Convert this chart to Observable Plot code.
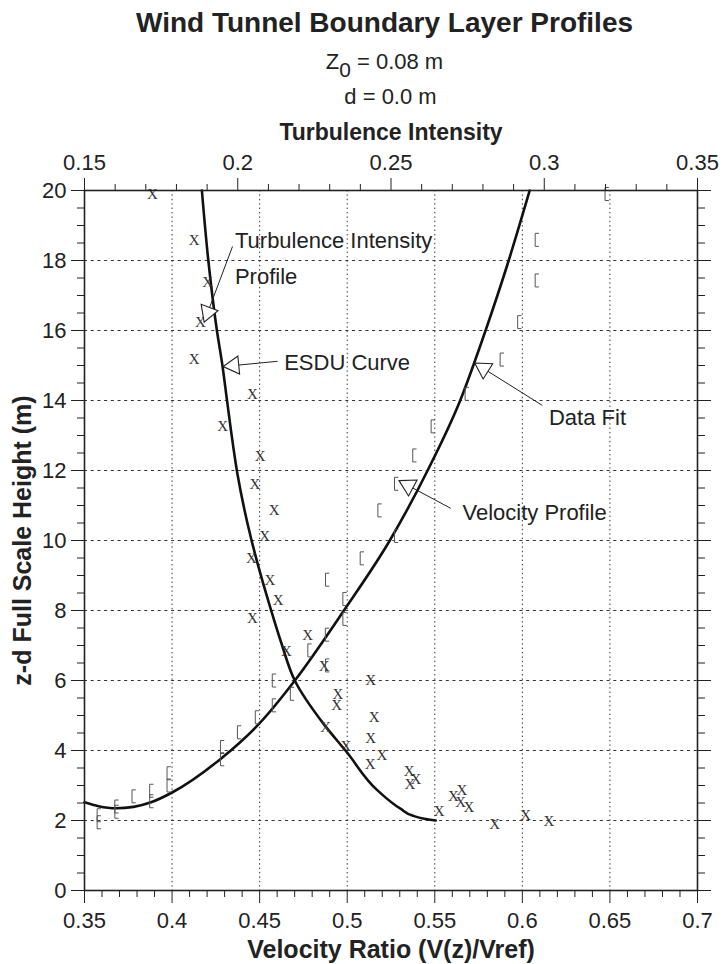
<!DOCTYPE html>
<html>
<head>
<meta charset="utf-8">
<script src="https://cdn.jsdelivr.net/npm/d3@7"></script>
<script src="https://cdn.jsdelivr.net/npm/@observablehq/plot@0.6"></script>
<style>
  body { margin: 0; background: #fff; font-family: "Liberation Sans", Arial, sans-serif; color: #222; }
  #hdr { width: 724px; height: 116px; position: relative; }
  .ln { position: absolute; left: 51px; width: 667px; text-align: center; white-space: nowrap; }
  #t1 { top: 0; height: 46px; line-height: 46px; font-weight: bold; font-size: 28px; }
  #t2 { top: 44px; height: 36px; line-height: 36px; font-size: 22px; }
  #t3 { top: 79px; height: 36px; line-height: 36px; font-size: 22px; left: 57px; }
  #t2 .sub { font-size: 0.95em; position: relative; top: 8px; }
</style>
</head>
<body>
<div id="hdr">
  <div class="ln" id="t1"></div>
  <div class="ln" id="t2"></div>
  <div class="ln" id="t3"></div>
</div>
<div id="chart"></div>
<script>
// ---------- text ----------
const titleText = "Wind Tunnel Boundary Layer Profiles";
const z0Text = ["Z", "0", " = 0.08 m"];
const dText = "d = 0.0 m";
const topAxisLabel = "Turbulence Intensity";
const xAxisLabel = "Velocity Ratio (V(z)/Vref)";
const yAxisLabel = "z-d Full Scale Height (m)";

// ---------- ticks ----------
const vTicks = [0.35, 0.4, 0.45, 0.5, 0.55, 0.6, 0.65, 0.7];
const vTickLabels = ["0.35", "0.4", "0.45", "0.5", "0.55", "0.6", "0.65", "0.7"];
const tiTicks = [0.15, 0.2, 0.25, 0.3, 0.35];
const tiTickLabels = ["0.15", "0.2", "0.25", "0.3", "0.35"];
const zTicks = [0, 2, 4, 6, 8, 10, 12, 14, 16, 18, 20];
const zTickLabels = ["0", "2", "4", "6", "8", "10", "12", "14", "16", "18", "20"];
const vGrid = [0.4, 0.45, 0.5, 0.55, 0.6, 0.65];
const zGrid = [2, 4, 6, 8, 10, 12, 14, 16, 18];

// ---------- turbulence intensity data (X markers, top axis) ----------
const tiValues = [0.1722, 0.1858, 0.1902, 0.1878, 0.1858, 0.2048, 0.1951, 0.2073, 0.2056, 0.2119,
  0.2088, 0.2045, 0.2105, 0.2132, 0.2048, 0.2228, 0.2159, 0.2282, 0.2434, 0.2327,
  0.2323, 0.2445, 0.2287, 0.2434, 0.2353, 0.2470, 0.2432, 0.2559, 0.2581, 0.2562,
  0.2657, 0.2704, 0.2731, 0.2727, 0.2754, 0.2838, 0.2939, 0.3015];
const tiHeights = [19.9, 18.59, 17.38, 16.24, 15.17, 14.19, 13.26, 12.40, 11.60, 10.86,
  10.13, 9.49, 8.88, 8.30, 7.79, 7.29, 6.84, 6.40, 6.02, 5.62,
  5.29, 4.95, 4.67, 4.36, 4.11, 3.86, 3.62, 3.42, 3.19, 3.03,
  2.26, 2.69, 2.86, 2.52, 2.38, 1.90, 2.14, 1.98];

// ---------- velocity ratio data ([ markers, bottom axis) ----------
const velValues = [0.6479, 0.6080, 0.6080, 0.5980, 0.5880, 0.5680, 0.5486, 0.5381, 0.5277, 0.5182,
  0.5277, 0.5081, 0.4883, 0.4982, 0.4982, 0.4882, 0.4782, 0.4883, 0.4579, 0.4682,
  0.4579, 0.4482, 0.4380, 0.4283, 0.4283, 0.3978, 0.3978, 0.3879, 0.3879, 0.3778,
  0.3680, 0.3680, 0.3579, 0.3579];
const velHeights = [19.9, 18.59, 17.43, 16.24, 15.17, 14.19, 13.26, 12.43, 11.62, 10.86,
  10.13, 9.49, 8.88, 8.33, 7.76, 7.31, 6.86, 6.43, 6.00, 5.62,
  5.29, 4.95, 4.52, 4.10, 3.75, 3.35, 3.00, 2.85, 2.55, 2.69,
  2.40, 2.25, 2.15, 1.95];

// ---------- velocity profile "Data Fit" curve ----------
const fitV = [0.3500, 0.3580, 0.3680, 0.3780, 0.3880, 0.4000, 0.4277, 0.4500,
  0.4701, 0.4981, 0.5243, 0.5459, 0.5645, 0.5790, 0.5922, 0.6042];
const fitZ = [2.52, 2.41, 2.35, 2.39, 2.52, 2.80, 3.76, 4.78,
  6.00, 8.00, 10.00, 12.00, 14.00, 16.00, 18.00, 20.00];

// ---------- turbulence intensity "ESDU Curve" ----------
const esduT = [0.1883, 0.1904, 0.1932, 0.1950, 0.1965, 0.1978, 0.1999, 0.2032, 0.2065, 0.2106,
  0.2143, 0.2186, 0.2280, 0.2356, 0.2456, 0.2532, 0.2570, 0.2608, 0.2646];
const esduZ = [20, 18, 16, 15, 14, 13.14, 11.9, 10.48, 9.33, 8.09,
  7.05, 6.0, 4.76, 3.95, 2.86, 2.33, 2.14, 2.05, 2.0];

// ---------- annotations ----------
const annTexts = ["Turbulence Intensity", "Profile", "ESDU Curve", "Data Fit", "Velocity Profile"];
const annV = [0.4359, 0.4359, 0.4640, 0.6152, 0.5658];
const annZ = [18.57, 17.52, 15.07, 13.49, 10.79];
const arrowStartV = [0.4345, 0.4602, 0.6114, 0.5591];
const arrowStartZ = [18.40, 15.12, 13.86, 10.92];
const arrowTipV = [0.4183, 0.4292, 0.5728, 0.5296];
const arrowTipZ = [16.24, 14.97, 15.07, 11.71];

// ---------- derived ----------
const W = 724, H = 848, mL = 84, mR = 27, mT = 74, mB = 74;
const vDomain = [0.35, 0.7], zDomain = [0, 20];
const toV = (t) => vDomain[0] + (t - tiTicks[0]) * (vDomain[1] - vDomain[0]) / (tiTicks[tiTicks.length - 1] - tiTicks[0]);
const tiTickPos = tiTicks.map(toV);
const vMinor = d3.range(35, 71).map(i => i / 100).filter(v => !vTicks.some(t => Math.abs(t - v) < 1e-9));
const tiMinor = d3.range(15, 36).map(i => toV(i / 100)).filter(v => !tiTickPos.some(t => Math.abs(t - v) < 1e-9));
const zMinor = d3.range(0, 41).map(i => i / 2).filter(z => z % 2 !== 0);

const tiData = tiValues.map((t, i) => ({v: toV(t), z: tiHeights[i]}));
const velData = velValues.map((v, i) => ({v, z: velHeights[i]}));
const fitData = fitV.map((v, i) => ({v, z: fitZ[i]}));
const esduData = esduT.map((t, i) => ({v: toV(t), z: esduZ[i]}));
const annData = annTexts.map((s, i) => ({s, v: annV[i], z: annZ[i]}));

const kx = (W - mL - mR) / (vDomain[1] - vDomain[0]);
const ky = (H - mT - mB) / (zDomain[1] - zDomain[0]);
const side = 18;
const y0 = side / (2 * Math.sqrt(3));
const triR = Math.sqrt(3 * Math.sqrt(3) * y0 * y0 / Math.PI);
const arrowData = arrowStartV.map((sv, i) => {
  const dxp = (arrowTipV[i] - sv) * kx;
  const dyp = -(arrowTipZ[i] - arrowStartZ[i]) * ky;
  const len = Math.hypot(dxp, dyp);
  const ux = dxp / len, uy = dyp / len;
  return {
    sv, sz: arrowStartZ[i],
    cv: arrowTipV[i] - ux * 2 * y0 / kx,
    cz: arrowTipZ[i] + uy * 2 * y0 / ky,
    rot: Math.atan2(uy, ux) * 180 / Math.PI + 90
  };
});

// "[" marker drawn as a crisp path symbol
const bracketSymbol = {
  draw(context) {
    context.moveTo(2.6, -6.5);
    context.lineTo(-1.2, -6.5);
    context.lineTo(-1.2, 6.5);
    context.lineTo(2.6, 6.5);
  }
};

// header
document.getElementById("t1").textContent = titleText;
document.getElementById("t2").innerHTML = z0Text[0] + '<span class="sub">' + z0Text[1] + '</span>' + z0Text[2];
document.getElementById("t3").textContent = dText;

const ink = "#222";
const chart = Plot.plot({
  width: W, height: H,
  marginLeft: mL, marginRight: mR, marginTop: mT, marginBottom: mB,
  x: {domain: vDomain},
  y: {domain: zDomain},
  style: {fontFamily: "'Liberation Sans', Arial, sans-serif", fontSize: "22px", color: ink, background: "white", overflow: "visible"},
  marks: [
    Plot.ruleX(vGrid, {stroke: "#333", strokeWidth: 1, strokeDasharray: "1.4,3"}),
    Plot.ruleY(zGrid, {stroke: "#333", strokeWidth: 1, strokeDasharray: "3,3.7"}),
    Plot.line(fitData, {x: "v", y: "z", curve: "monotone-x", stroke: "#111", strokeWidth: 2.6}),
    Plot.line(esduData, {x: "v", y: "z", curve: "monotone-y", stroke: "#111", strokeWidth: 2.6}),
    Plot.text(tiData, {x: "v", y: "z", text: () => "X", fontFamily: "'Liberation Serif', 'Times New Roman', serif", fontSize: 15, fill: "#333"}),
    Plot.dot(velData, {x: "v", y: "z", symbol: bracketSymbol, fill: "none", stroke: "#555", strokeWidth: 1}),
    Plot.link(arrowData, {x1: "sv", y1: "sz", x2: "cv", y2: "cz", stroke: ink, strokeWidth: 1}),
    Plot.dot(arrowData, {x: "cv", y: "cz", symbol: "triangle", r: triR, rotate: "rot", fill: "white", stroke: ink, strokeWidth: 1.1}),
    Plot.text(annData, {x: "v", y: "z", text: "s", textAnchor: "start", lineAnchor: "middle", fontSize: 22, fill: ink}),
    Plot.frame({stroke: ink, strokeWidth: 1.6}),
    // bottom axis
    Plot.axisX({anchor: "bottom", ticks: vTicks, tickFormat: d => vTickLabels[vTicks.indexOf(d)], tickSize: 13, tickPadding: 9, label: null, fontSize: 22}),
    Plot.axisX({anchor: "bottom", ticks: vMinor, tickFormat: () => "", tickSize: 7, label: null}),
    // top axis (turbulence intensity)
    Plot.axisX({anchor: "top", ticks: tiTickPos, tickFormat: d => tiTickLabels[tiTickPos.indexOf(d)], tickSize: 13, tickPadding: 8, label: null, fontSize: 22}),
    Plot.axisX({anchor: "top", ticks: tiMinor, tickFormat: () => "", tickSize: 7, label: null}),
    // left axis
    Plot.axisY({anchor: "left", ticks: zTicks, tickFormat: d => zTickLabels[zTicks.indexOf(d)], tickSize: 13, tickPadding: 5, label: null, fontSize: 22}),
    Plot.axisY({anchor: "left", ticks: zMinor, tickFormat: () => "", tickSize: 7, label: null}),
    // right axis (ticks only)
    Plot.axisY({anchor: "right", ticks: zTicks, tickFormat: () => "", tickSize: 13, label: null}),
    Plot.axisY({anchor: "right", ticks: zMinor, tickFormat: () => "", tickSize: 7, label: null}),
    // axis titles
    Plot.text([xAxisLabel], {text: d => d, frameAnchor: "bottom", lineAnchor: "middle", textAnchor: "middle", dy: 59, fontWeight: "bold", fontSize: 25, fill: ink}),
    Plot.text([topAxisLabel], {text: d => d, frameAnchor: "top", lineAnchor: "middle", textAnchor: "middle", dy: -58, fontWeight: "bold", fontSize: 23, fill: ink}),
    Plot.text([yAxisLabel], {text: d => d, frameAnchor: "left", lineAnchor: "middle", textAnchor: "middle", rotate: -90, dx: -62, fontWeight: "bold", fontSize: 25, fill: ink})
  ]
});
document.getElementById("chart").appendChild(chart);
</script>
</body>
</html>
